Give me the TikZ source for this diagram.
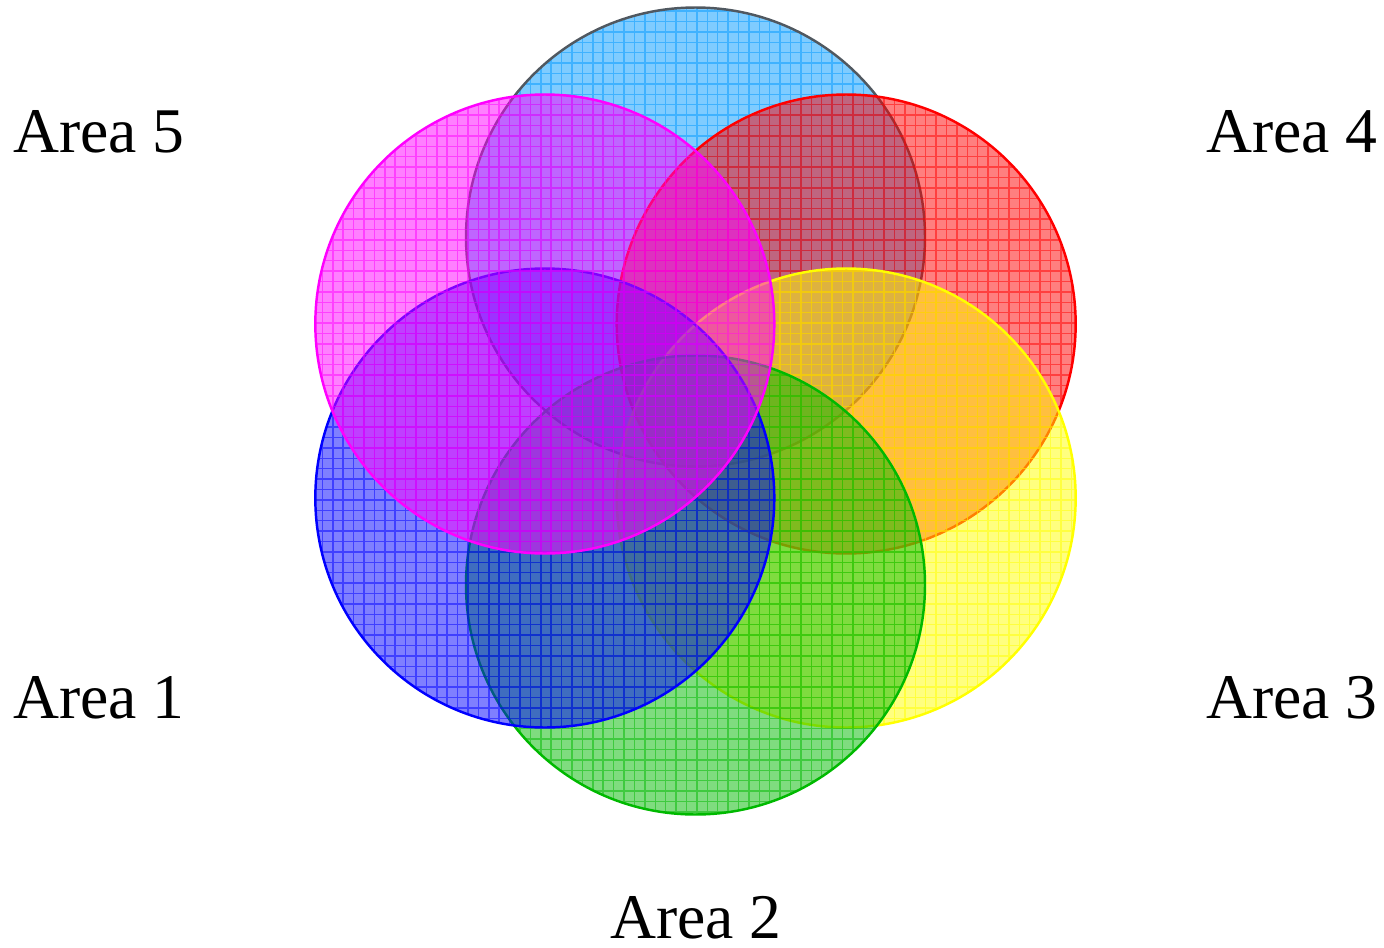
\documentclass[tikz,border=0pt]{standalone}
\usepackage{fontspec}
\setmainfont{Liberation Serif}
\usetikzlibrary{calc}
\definecolor{skyfill}{RGB}{0,153,255}
\definecolor{skyedge}{RGB}{80,88,96}
\definecolor{rosered}{RGB}{255,0,0}
\definecolor{sunyellow}{RGB}{255,255,0}
\definecolor{leafgreen}{RGB}{0,185,0}
\definecolor{deepblue}{RGB}{0,0,255}
\definecolor{pinkviolet}{RGB}{255,0,255}

\begin{document}
\begin{tikzpicture}[
  x=0.01cm, y=0.01cm,
  lbl/.style={font=\fontsize{18.1}{20}\selectfont, anchor=base, inner sep=0pt},
  meshline/.style={line width=0.4pt, opacity=0.5},
  rim/.style={line width=0.7pt}
]
\useasboundingbox (0,0) rectangle (1384,947);
\coordinate (hub) at (695.5,536);
\foreach \name/\ang/\col/\edge in {top/90/skyfill/skyedge, ne/30/rosered/rosered,
    se/-30/sunyellow/sunyellow, bot/-90/leafgreen/leafgreen, sw/-150/deepblue/deepblue,
    nw/150/pinkviolet/pinkviolet}{
  \coordinate (c\name) at ($(hub)+(\ang:174)$);
  \begin{scope}
    \clip (c\name) circle[radius=229.5];
    \fill[\col, fill opacity=0.5] (c\name) circle[radius=229.5];
    \draw[\col, meshline, step=10.4] ($(c\name)-(232,232)$) grid ($(c\name)+(232,232)$);
  \end{scope}
  \draw[\edge, rim] (c\name) circle[radius=229.5];
}
\node[lbl] (area5) at (99,795) {Area 5};
\node[lbl] (area4) at (1292,795) {Area 4};
\node[lbl] (area1) at (99,229) {Area 1};
\node[lbl] (area3) at (1292,229) {Area 3};
\node[lbl] (area2) at (696,9) {Area 2};
\end{tikzpicture}
\end{document}
